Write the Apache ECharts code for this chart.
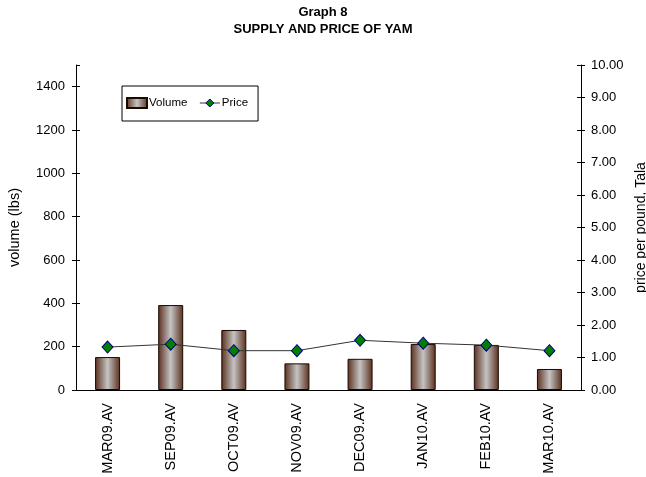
<!DOCTYPE html>
<html><head><meta charset="utf-8">
<script src="https://cdn.jsdelivr.net/npm/echarts@6/dist/echarts.min.js"></script>
<style>html,body{margin:0;padding:0;background:#fff}#c{width:646px;height:477px}</style>
</head><body><div id="c"></div>
<script>
var categories = ['MAR09.AV','SEP09.AV','OCT09.AV','NOV09.AV','DEC09.AV','JAN10.AV','FEB10.AV','MAR10.AV'];
var volume = [152, 392, 277, 123, 144, 212, 208, 97];
var price = [1.32, 1.41, 1.21, 1.21, 1.53, 1.44, 1.38, 1.21];

var chart = echarts.init(document.getElementById('c'));
var F = 'Liberation Sans, Arial, sans-serif';
function tickOnly(pos, min, max, interval) {
  return {
    type: 'value', position: pos, min: min, max: max, interval: interval,
    axisLine: {show: false},
    axisTick: {show: true, inside: true, length: 4, lineStyle: {color: '#000'}},
    axisLabel: {show: false}, splitLine: {show: false}
  };
}
chart.setOption({
  animation: false,
  textStyle: {fontFamily: F},
  title: {
    text: 'Graph 8\nSUPPLY AND PRICE OF YAM',
    left: 'center', top: 0, padding: [4, 5, 5, 5],
    textStyle: {fontFamily: F, fontSize: 13, fontWeight: 'bold', color: '#000', lineHeight: 17}
  },
  legend: {
    orient: 'horizontal',
    left: 122, top: 86,
    padding: [11, 10, 12, 4],
    borderColor: '#000', borderWidth: 1,
    itemGap: 12, itemWidth: 20, itemHeight: 10,
    textStyle: {fontFamily: F, fontSize: 11.5, color: '#000', padding: [0,0,0,-3]},
    data: [
      {name: 'Volume', icon: 'rect'},
      {name: 'Price', itemStyle: {color: '#008000', borderColor: '#000080', borderWidth: 1}, lineStyle: {color: '#333', width: 1}}
    ]
  },
  grid: {left: 76, right: 65, top: 65, bottom: 87, containLabel: false, outerBoundsMode: 'none'},
  xAxis: {
    type: 'category', data: categories,
    axisLine: {lineStyle: {color: '#000', width: 1}},
    axisTick: {alignWithLabel: false, length: 6, lineStyle: {color: '#000'}},
    axisLabel: {rotate: 90, fontFamily: F, fontSize: 14.5, color: '#000', margin: 13}
  },
  yAxis: [
    {
      type: 'value', min: 0, max: 1500, interval: 200, position: 'left',
      name: 'volume (lbs)', nameLocation: 'middle', nameGap: 54, nameRotate: 90,
      nameTextStyle: {fontFamily: F, fontSize: 14.5, color: '#000'},
      axisLine: {show: true, lineStyle: {color: '#000'}},
      axisTick: {show: true, length: 4, lineStyle: {color: '#000'}},
      axisLabel: {fontFamily: F, fontSize: 13, color: '#000', showMaxLabel: false, margin: 11, formatter: function(v){return String(v);}},
      splitLine: {show: false}
    },
    {
      type: 'value', min: 0, max: 10, interval: 1, position: 'right',
      name: 'price per pound, Tala', nameLocation: 'middle', nameGap: 49, nameRotate: 90,
      nameTextStyle: {fontFamily: F, fontSize: 14, color: '#000'},
      axisLine: {show: true, lineStyle: {color: '#000'}},
      axisTick: {show: true, length: 4, lineStyle: {color: '#000'}},
      axisLabel: {fontFamily: F, fontSize: 13, color: '#000', margin: 10, formatter: function(v){return v.toFixed(2);}},
      splitLine: {show: false}
    },
    tickOnly('left', 0, 1500, 200),
    tickOnly('right', 0, 10, 1)
  ],
  series: [
    {
      name: 'Volume', type: 'bar', yAxisIndex: 0, data: volume, barWidth: 25,
      itemStyle: {
        borderColor: '#1a0a00', borderWidth: 1,
        color: new echarts.graphic.LinearGradient(0, 0, 1, 0, [
          {offset: 0, color: '#5a2e1c'},
          {offset: 0.5, color: '#c4c4c4'},
          {offset: 1, color: '#5a2e1c'}
        ])
      }
    },
    {
      name: 'Price', type: 'line', yAxisIndex: 1, data: price,
      symbol: 'diamond', symbolSize: [11, 12],
      lineStyle: {color: '#333', width: 1},
      itemStyle: {color: '#008000', borderColor: '#000080', borderWidth: 1}
    }
  ]
});
</script></body></html>
